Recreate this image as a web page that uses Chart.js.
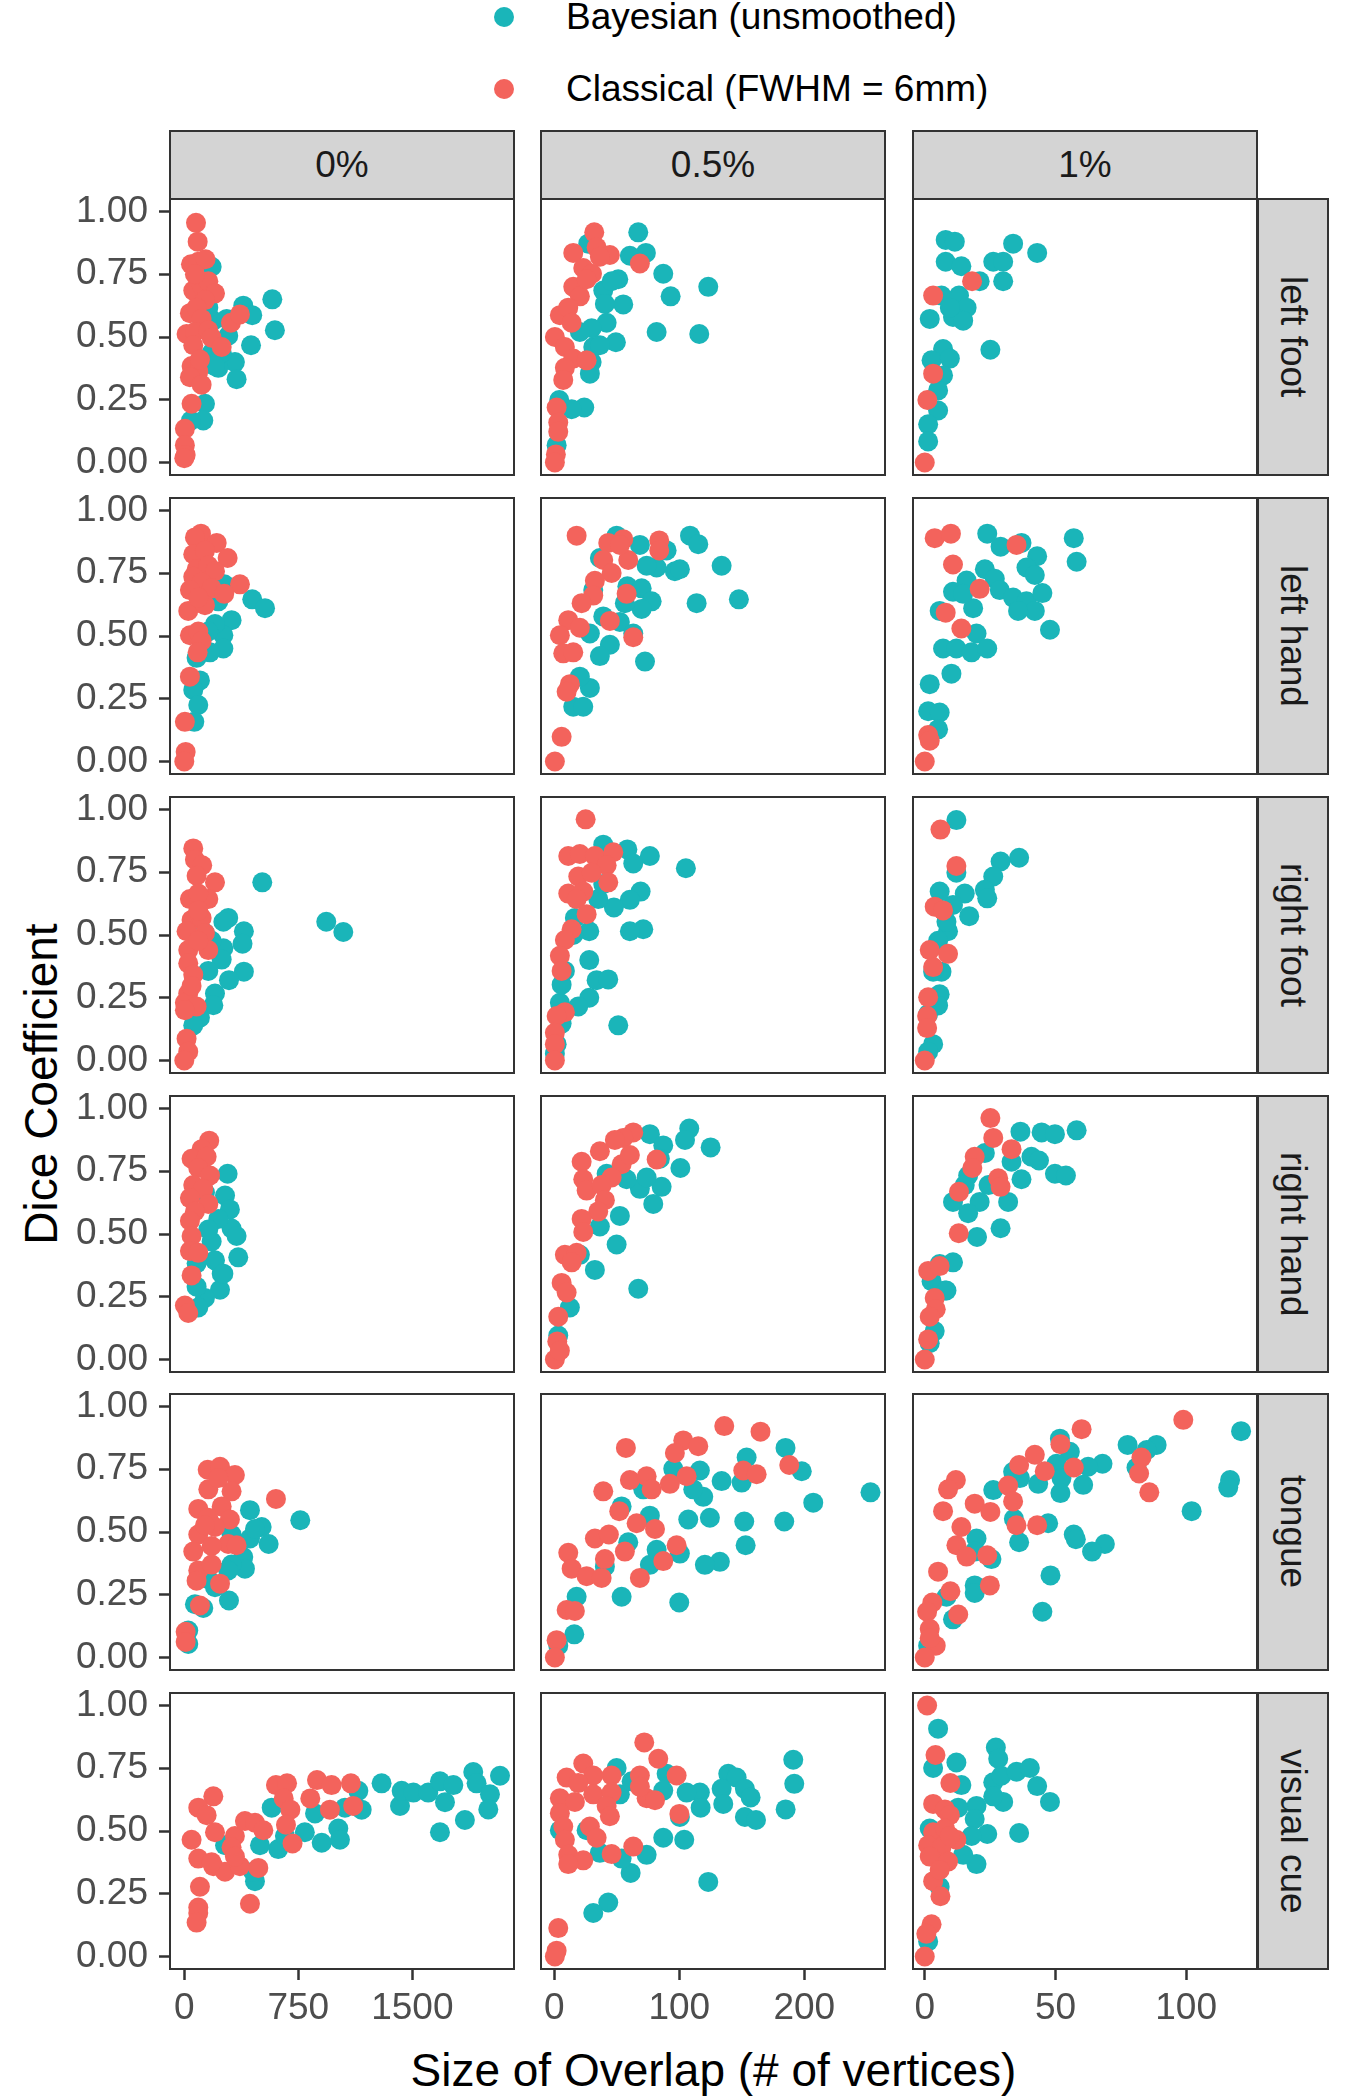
<!DOCTYPE html>
<html>
<head>
<meta charset="utf-8">
<title>Dice coefficient vs size of overlap</title>
<script src="https://cdn.jsdelivr.net/npm/chart.js"></script>
<style>
  body { margin: 0; background: #fff; font-family: 'Liberation Sans', Arial, sans-serif; }
  #page { position: relative; width: 1350px; height: 2100px; overflow: hidden; }
  .strip { position: absolute; box-sizing: border-box; background: #d4d4d4; border: 2px solid #333;
           display: flex; align-items: center; justify-content: center; font-size: 37px; color: #1a1a1a; }
  .strip.side { writing-mode: vertical-rl; }
  .legend-row { position: absolute; left: 494px; height: 40px; display: flex; align-items: center;
                font-size: 37px; color: #000; white-space: nowrap; }
  .legend-row .dot { width: 20px; height: 20px; border-radius: 50%; margin-right: 52px; }
  .title { position: absolute; color: #000; font-size: 46px; white-space: nowrap; }
  canvas { position: absolute; }
</style>
</head>
<body>
<div id="page">
  <div class="legend-row" style="top:-3px"><span class="dot" style="background:#1AB5B9"></span>Bayesian (unsmoothed)</div>
  <div class="legend-row" style="top:69px"><span class="dot" style="background:#F3635C"></span>Classical (FWHM = 6mm)</div>
  <div class="title" id="xTitle">Size of Overlap (# of vertices)</div>
  <div class="title" id="yTitle">Dice Coefficient</div>
</div>

<script>
// facet labels and axis ticks
const rowLabels = ['left foot', 'left hand', 'right foot', 'right hand', 'tongue', 'visual cue'];
const colLabels = ['0%', '0.5%', '1%'];
const xTicksByCol = [[0, 750, 1500], [0, 100, 200], [0, 50, 100]];
const xRangeByCol = [[-94, 2169], [-10.6, 264.6], [-4.5, 127.1]];
const yTickValues = [0, 0.25, 0.5, 0.75, 1];
const yRange = [-0.05, 1.05];

// ---- 0% ----
const claLeftFoot0 = [[77,0.955],[88,0.88],[44,0.79],[92,0.80],[140,0.81],[59,0.685],[114,0.707],[158,0.722],[202,0.674],[136,0.647],[37,0.595],[81,0.617],[114,0.572],[15,0.512],[70,0.52],[158,0.527],[180,0.497],[246,0.46],[59,0.467],[307,0.557],[366,0.59],[48,0.384],[92,0.362],[37,0.34],[114,0.31],[48,0.234],[4,0.134],[4,0.069],[9,0.03],[0,0.017],[70,0.75],[103,0.41]];
const bayLeftFoot0 = [[180,0.78],[388,0.625],[447,0.587],[579,0.65],[596,0.527],[439,0.467],[191,0.565],[279,0.572],[289,0.505],[180,0.437],[333,0.40],[344,0.332],[224,0.377],[136,0.234],[125,0.167],[44,0.167],[114,0.542],[246,0.437],[158,0.617],[202,0.384]];
const claLeftHand0 = [[110,0.908],[213,0.871],[285,0.811],[70,0.893],[59,0.826],[136,0.84],[81,0.766],[158,0.781],[202,0.758],[59,0.736],[366,0.706],[114,0.713],[37,0.683],[180,0.69],[263,0.668],[26,0.60],[136,0.623],[37,0.503],[92,0.518],[114,0.48],[88,0.435],[37,0.338],[4,0.158],[9,0.038],[0,0.0],[92,0.653]];
const bayLeftHand0 = [[263,0.706],[447,0.646],[531,0.611],[311,0.563],[257,0.503],[257,0.45],[169,0.435],[202,0.548],[81,0.413],[103,0.323],[59,0.285],[92,0.225],[66,0.158],[224,0.638],[158,0.518]];
const claRightFoot0 = [[59,0.845],[70,0.80],[118,0.778],[81,0.736],[202,0.71],[37,0.643],[158,0.643],[92,0.665],[48,0.56],[114,0.568],[15,0.515],[136,0.508],[26,0.44],[158,0.44],[26,0.387],[59,0.342],[26,0.267],[4,0.23],[81,0.215],[4,0.2],[15,0.087],[26,0.035],[0,0.0],[92,0.598],[92,0.477],[48,0.297]];
const bayRightFoot0 = [[513,0.71],[934,0.553],[1046,0.512],[289,0.568],[257,0.553],[392,0.515],[383,0.465],[257,0.447],[246,0.402],[392,0.354],[294,0.32],[202,0.267],[191,0.22],[103,0.17],[59,0.14],[180,0.477],[158,0.357],[136,0.508]];
const claRightHand0 = [[164,0.872],[114,0.838],[48,0.80],[147,0.808],[92,0.763],[169,0.733],[59,0.695],[125,0.68],[37,0.643],[158,0.62],[70,0.59],[37,0.553],[48,0.492],[37,0.432],[92,0.425],[48,0.335],[4,0.215],[26,0.185]];
const bayRightHand0 = [[285,0.74],[268,0.653],[300,0.598],[311,0.522],[344,0.492],[355,0.407],[246,0.342],[235,0.278],[136,0.245],[92,0.207],[81,0.29],[180,0.47],[202,0.395],[224,0.56],[158,0.518],[257,0.342],[81,0.383],[136,0.665]];
const claTongue0 = [[154,0.748],[235,0.76],[333,0.727],[158,0.67],[311,0.662],[603,0.632],[92,0.592],[246,0.602],[300,0.55],[158,0.557],[92,0.49],[202,0.52],[289,0.452],[344,0.447],[59,0.422],[180,0.444],[92,0.347],[180,0.37],[81,0.306],[235,0.294],[103,0.207],[9,0.102],[9,0.062],[224,0.715],[136,0.527]];
const bayTongue0 = [[763,0.547],[432,0.587],[509,0.52],[555,0.452],[432,0.474],[388,0.40],[399,0.354],[311,0.37],[289,0.347],[202,0.28],[294,0.227],[125,0.197],[70,0.212],[26,0.054],[26,0.107],[158,0.312],[465,0.512],[311,0.49]];
const claVisual0 = [[191,0.638],[92,0.593],[147,0.563],[48,0.465],[202,0.495],[92,0.39],[191,0.36],[268,0.338],[103,0.278],[92,0.195],[92,0.173],[81,0.135],[432,0.21],[487,0.353],[366,0.36],[333,0.48],[399,0.54],[465,0.533],[520,0.503],[603,0.683],[676,0.69],[654,0.63],[698,0.585],[669,0.525],[712,0.45],[829,0.63],[873,0.703],[969,0.683],[1096,0.69],[1111,0.60],[958,0.585],[311,0.435],[333,0.398],[180,0.375]];
const bayVisual0 = [[1298,0.69],[1419,0.60],[1430,0.66],[1507,0.653],[1605,0.653],[1682,0.698],[1770,0.683],[1715,0.615],[1682,0.495],[1846,0.544],[1901,0.735],[1923,0.69],[2077,0.72],[2011,0.646],[2000,0.586],[1145,0.66],[1167,0.585],[1013,0.51],[1024,0.465],[904,0.453],[860,0.57],[793,0.495],[618,0.428],[575,0.593],[498,0.443],[465,0.30],[454,0.338],[268,0.443],[662,0.48],[1057,0.593]];

// ---- 0.5% ----
const claLeftFoot05 = [[32,0.917],[15.2,0.835],[33.9,0.857],[44.5,0.827],[68.5,0.793],[23.2,0.775],[30.2,0.752],[15.2,0.70],[20.5,0.662],[4.5,0.587],[11.2,0.617],[13.9,0.557],[0.5,0.50],[8.5,0.46],[15.2,0.414],[25.9,0.407],[8.5,0.377],[7.2,0.329],[1.9,0.219],[3.2,0.159],[3.2,0.122],[1.3,0.032],[0.5,0.0],[36.5,0.82],[25.9,0.73]];
const bayLeftFoot05 = [[67.2,0.917],[27.2,0.872],[73.3,0.835],[60.5,0.824],[87.2,0.752],[51.2,0.73],[123.2,0.70],[93.1,0.662],[39.2,0.685],[55.2,0.63],[40.5,0.632],[41.9,0.557],[81.9,0.52],[116,0.512],[49.3,0.479],[29.9,0.535],[31.2,0.46],[29.9,0.40],[28.5,0.354],[24,0.219],[13.9,0.212],[4,0.249],[1.9,0.069],[20.5,0.52],[45.9,0.722],[36.5,0.467]];
const claLeftHand05 = [[17.9,0.90],[43.2,0.871],[55.2,0.886],[59.2,0.803],[84,0.881],[84,0.841],[39.2,0.803],[45.9,0.751],[32.5,0.72],[31.2,0.661],[21.9,0.631],[57.9,0.668],[44.5,0.56],[11.2,0.563],[4.5,0.503],[20.5,0.533],[7.2,0.431],[15.2,0.435],[63.2,0.495],[12.5,0.308],[9.9,0.278],[5.9,0.098],[0.5,0.0],[52.5,0.863]];
const bayLeftHand05 = [[49.9,0.90],[68.5,0.863],[89.9,0.841],[108.6,0.90],[115.2,0.866],[133.9,0.78],[147.7,0.646],[113.9,0.631],[96.5,0.758],[81.9,0.773],[73.9,0.78],[36.5,0.811],[31.2,0.683],[58.5,0.698],[69.9,0.69],[77.9,0.638],[69.9,0.608],[56.5,0.631],[39.2,0.578],[52.5,0.556],[28.5,0.51],[44.5,0.465],[36.5,0.42],[72.6,0.398],[28.5,0.293],[20.5,0.338],[15.2,0.218],[23.2,0.218],[100.5,0.766],[63.2,0.51]];
const claRightFoot05 = [[25.1,0.961],[11.2,0.815],[20.5,0.823],[32.5,0.815],[47.2,0.83],[41.9,0.778],[19.2,0.733],[43.2,0.71],[11.2,0.665],[23.2,0.673],[17.9,0.643],[25.9,0.583],[13.9,0.523],[8.5,0.48],[4.5,0.417],[5.9,0.357],[8.5,0.192],[1.9,0.177],[0.5,0.11],[0.5,0.065],[0.5,0.0],[29.9,0.748]];
const bayRightFoot05 = [[39.2,0.86],[58.5,0.841],[76.5,0.815],[63.2,0.785],[105.3,0.766],[69.1,0.673],[60.5,0.64],[47.7,0.61],[35.2,0.643],[71.2,0.523],[60.5,0.515],[28,0.515],[16.5,0.568],[28,0.40],[33.9,0.32],[43.2,0.323],[28,0.25],[19.2,0.215],[4.5,0.23],[5.9,0.302],[8.5,0.357],[51.2,0.14],[5.9,0.147],[1.9,0.065],[0.5,0.027],[15.2,0.50],[39.2,0.703]];
const claRightHand05 = [[63.2,0.905],[55.2,0.883],[48.5,0.875],[36.5,0.83],[21.9,0.788],[53.9,0.778],[81.9,0.797],[60.5,0.815],[23.2,0.718],[45.9,0.725],[25.9,0.673],[37.9,0.695],[40.5,0.635],[35.2,0.59],[21.9,0.56],[23.2,0.508],[8.5,0.417],[17.9,0.425],[13.9,0.387],[5.9,0.305],[9.9,0.267],[3.2,0.17],[2.4,0.072],[0.5,0.0],[4.5,0.035]];
const bayRightHand05 = [[108,0.92],[104.6,0.875],[125.1,0.845],[76.5,0.898],[87.2,0.853],[100.9,0.763],[85.9,0.688],[79.2,0.62],[68.5,0.68],[73.9,0.725],[57.9,0.718],[41.9,0.74],[52.5,0.572],[36.5,0.53],[49.9,0.458],[20.5,0.417],[32.5,0.357],[67.2,0.282],[12.5,0.207],[3.2,0.095],[84.5,0.80]];
const claTongue05 = [[136,0.922],[165,0.90],[57.3,0.835],[103.2,0.865],[115.2,0.842],[96.5,0.815],[188,0.767],[151.2,0.745],[161.9,0.73],[105.9,0.722],[60.5,0.707],[73.9,0.722],[77.9,0.67],[92.5,0.692],[39.2,0.662],[52,0.583],[65.9,0.535],[80.6,0.512],[32.5,0.474],[43.7,0.49],[11.2,0.417],[40.5,0.392],[56.5,0.422],[97.9,0.447],[87.2,0.384],[13.9,0.354],[25.9,0.324],[37.9,0.317],[68.5,0.317],[9.9,0.189],[16.5,0.185],[1.9,0.069],[0.5,0.0]];
const bayTongue05 = [[253,0.658],[185,0.835],[198,0.742],[207.2,0.617],[153.9,0.797],[149.9,0.697],[133.9,0.703],[119.2,0.64],[111.2,0.67],[116.5,0.745],[152,0.542],[184,0.542],[153.1,0.447],[124.5,0.557],[107.2,0.55],[132.5,0.381],[120.5,0.369],[100.5,0.414],[100,0.219],[53.9,0.242],[76.5,0.369],[81.9,0.429],[76.5,0.565],[59.2,0.459],[53.9,0.602],[40.5,0.362],[17.9,0.242],[16,0.092],[3.2,0.047],[71.2,0.67],[95.2,0.752]];
const claVisual05 = [[72,0.853],[23.2,0.769],[9.9,0.713],[83.2,0.788],[97.9,0.721],[68.5,0.721],[45.9,0.721],[31.2,0.721],[19.2,0.691],[4.5,0.631],[16.5,0.616],[31.2,0.646],[45.9,0.653],[73.9,0.631],[80.6,0.623],[4.5,0.571],[41.9,0.60],[100.1,0.568],[7.2,0.518],[44.5,0.559],[28.5,0.518],[8.5,0.465],[33.9,0.473],[63.2,0.438],[45.9,0.408],[11.2,0.405],[23.2,0.383],[11.2,0.368],[3.2,0.113],[1.9,0.023],[0.5,0.0],[68.5,0.676]];
const bayVisual05 = [[191.2,0.784],[192,0.688],[185.1,0.586],[139.2,0.728],[145.9,0.713],[152.5,0.668],[157.1,0.634],[133.9,0.668],[135.2,0.608],[152.5,0.556],[161.4,0.544],[116.5,0.653],[117.1,0.593],[105.9,0.653],[100.5,0.556],[104,0.465],[87.2,0.473],[123.2,0.297],[73.9,0.405],[61.1,0.333],[53.9,0.39],[36.5,0.413],[43.2,0.215],[31.2,0.173],[89.9,0.728],[49.9,0.751],[52.5,0.646],[87.2,0.661],[4.5,0.503],[25.9,0.503],[61.9,0.698]];

// ---- 1% ----
const claLeftFoot1 = [[18.1,0.722],[3.2,0.665],[3.2,0.354],[1,0.249],[0,0.0]];
const bayLeftFoot1 = [[8,0.887],[11.5,0.88],[33.8,0.872],[43,0.835],[8,0.80],[14,0.782],[26.2,0.80],[30,0.80],[30,0.722],[21,0.722],[6.4,0.665],[13.1,0.665],[16,0.617],[10.8,0.58],[14.7,0.565],[1.9,0.572],[25.1,0.449],[7,0.452],[2.6,0.407],[9.6,0.414],[7,0.347],[5.1,0.287],[5.1,0.207],[1.3,0.152],[1.3,0.084],[9.6,0.617]];
const claLeftHand1 = [[3.8,0.89],[10,0.908],[35.1,0.863],[10.8,0.785],[21,0.688],[8,0.593],[14,0.53],[1.3,0.105],[1.9,0.083],[0,0.0]];
const bayLeftHand1 = [[23.9,0.908],[29,0.856],[37,0.871],[43,0.818],[57,0.89],[58.1,0.796],[38.9,0.773],[42.1,0.743],[23,0.766],[26.8,0.728],[16,0.721],[28.7,0.683],[33.8,0.653],[38.9,0.638],[42.1,0.60],[35.7,0.60],[45,0.671],[47.9,0.525],[10.8,0.676],[5.7,0.60],[18.5,0.611],[19.8,0.51],[7,0.45],[12.1,0.45],[17.9,0.435],[23.9,0.45],[10.2,0.35],[1.9,0.308],[1.3,0.20],[5.7,0.195],[5.1,0.128],[14.7,0.668]];
const claRightFoot1 = [[6,0.92],[12.1,0.775],[3.8,0.613],[7,0.598],[1.9,0.44],[8.9,0.425],[3.2,0.372],[1.3,0.252],[0.9,0.177],[0.9,0.129],[0,0.0]];
const bayRightFoot1 = [[12.1,0.958],[36.1,0.808],[29,0.793],[26.2,0.733],[23,0.68],[23.9,0.646],[15.3,0.665],[17,0.575],[12.1,0.748],[5.7,0.673],[10.8,0.62],[8.9,0.515],[5.1,0.477],[6.4,0.354],[3.2,0.354],[5.7,0.264],[5.1,0.219],[1.3,0.185],[3.2,0.065],[1.3,0.035],[8.3,0.553]];
const claRightHand1 = [[25.1,0.962],[26.2,0.883],[33.2,0.838],[19.1,0.808],[18.2,0.763],[28.1,0.722],[29,0.688],[13.1,0.668],[13,0.503],[1.3,0.353],[5.7,0.372],[3.8,0.245],[4.2,0.20],[1.9,0.17],[1.3,0.08],[0,0.0]];
const bayRightHand1 = [[36.6,0.908],[44.7,0.905],[49.8,0.898],[58.1,0.913],[40.8,0.808],[43.7,0.793],[49.8,0.74],[54,0.733],[37,0.718],[33.2,0.788],[23,0.823],[31.9,0.628],[24.4,0.695],[21,0.628],[16.6,0.733],[15.3,0.695],[10.8,0.628],[16.6,0.583],[20,0.488],[29,0.523],[10.8,0.387],[5.7,0.38],[7.7,0.275],[3.8,0.113],[1.9,0.065],[2.6,0.312],[8.3,0.275]];
const claTongue1 = [[98.9,0.947],[60,0.91],[51.9,0.85],[42.1,0.808],[36.1,0.767],[45.9,0.742],[57,0.757],[82.9,0.797],[82,0.733],[85.9,0.658],[11.9,0.707],[8.9,0.67],[7,0.583],[19.1,0.613],[25.1,0.58],[31.9,0.685],[33.8,0.622],[35.1,0.527],[43,0.527],[14,0.52],[12.1,0.447],[16,0.402],[23.9,0.407],[5.1,0.342],[24.9,0.287],[9.8,0.264],[12.8,0.171],[2.9,0.219],[0.9,0.182],[1.9,0.114],[4.2,0.047],[0,0.0],[1.9,0.077]];
const bayTongue1 = [[121,0.902],[116.8,0.707],[116.1,0.677],[102.1,0.583],[88.7,0.847],[84.9,0.827],[77.6,0.847],[81,0.757],[68,0.772],[62.5,0.76],[51.7,0.872],[55.5,0.82],[50.4,0.772],[52.3,0.715],[51.9,0.655],[60.6,0.688],[43.4,0.692],[36.4,0.715],[33.8,0.74],[26.2,0.667],[34.1,0.553],[47.2,0.535],[57,0.49],[57.8,0.471],[68.9,0.452],[64,0.422],[36.1,0.459],[48.1,0.327],[45,0.182],[19.8,0.474],[19.1,0.422],[25.5,0.392],[19.1,0.287],[19.1,0.257],[8.3,0.242],[10.8,0.152],[1.3,0.047]];
const claVisual1 = [[0.9,1.0],[4.1,0.803],[9.8,0.691],[3.2,0.608],[7.7,0.586],[9.6,0.563],[3.2,0.495],[7.7,0.51],[12.1,0.465],[1.3,0.443],[6.4,0.435],[1.9,0.398],[8.9,0.378],[3.2,0.30],[6,0.24],[2.6,0.128],[0.6,0.09],[0,0.0],[5.7,0.345],[9.6,0.48]];
const bayVisual1 = [[5.1,0.908],[27.2,0.833],[28.1,0.788],[12.1,0.773],[3.2,0.751],[14,0.683],[26.2,0.694],[29.3,0.72],[35.1,0.736],[40.2,0.751],[43,0.679],[47.9,0.616],[30,0.616],[26.2,0.638],[19.8,0.60],[19.1,0.548],[23.9,0.488],[36.1,0.492],[17.9,0.48],[19.8,0.368],[14.7,0.405],[12.8,0.593],[1.9,0.51],[5.7,0.278],[1.3,0.06],[7,0.39]];

// rows x cols lookup
const bayesian = [
  [bayLeftFoot0, bayLeftFoot05, bayLeftFoot1],
  [bayLeftHand0, bayLeftHand05, bayLeftHand1],
  [bayRightFoot0, bayRightFoot05, bayRightFoot1],
  [bayRightHand0, bayRightHand05, bayRightHand1],
  [bayTongue0, bayTongue05, bayTongue1],
  [bayVisual0, bayVisual05, bayVisual1]
];
const classical = [
  [claLeftFoot0, claLeftFoot05, claLeftFoot1],
  [claLeftHand0, claLeftHand05, claLeftHand1],
  [claRightFoot0, claRightFoot05, claRightFoot1],
  [claRightHand0, claRightHand05, claRightHand1],
  [claTongue0, claTongue05, claTongue1],
  [claVisual0, claVisual05, claVisual1]
];

// layout
const TEAL = '#1AB5B9', RED = '#F3635C', INK = '#333333';
const panelLeft = [170, 541, 913], panelW = 344, panelH = 276;
const top0 = 199.4, rowStep = 298.7;
const yAxisW = 110, xAxisH = 70;
const stripH = 69, sideW = 72;
const PAD = 25;   // spare canvas room so border and edge tick labels are not clipped

Chart.defaults.font.family = "'Liberation Sans', Arial, sans-serif";
Chart.defaults.font.size = 37;
Chart.defaults.color = '#4d4d4d';

const page = document.getElementById('page');

// panel border drawn over the points, like ggplot's panel.border
const panelBorder = {
  id: 'panelBorder',
  afterDatasetsDraw(chart) {
    const a = chart.chartArea, ctx = chart.ctx;
    ctx.save();
    ctx.strokeStyle = INK;
    ctx.lineWidth = 2;
    ctx.strokeRect(a.left, a.top, a.right - a.left, a.bottom - a.top);
    ctx.restore();
  }
};

const tickGrid = { display: true, drawOnChartArea: false, drawTicks: true, tickLength: 11, tickWidth: 2.5, tickColor: INK };

function rowTop(r) { return Math.round(top0 + r * rowStep); }

function toPoints(arr) { return arr.map(p => ({ x: p[0], y: p[1] })); }

// strips
colLabels.forEach((lab, c) => {
  const d = document.createElement('div');
  d.className = 'strip';
  d.textContent = lab;
  d.style.cssText = `left:${panelLeft[c] - 1}px;top:${rowTop(0) - stripH}px;width:${panelW + 2}px;height:${stripH + 1}px`;
  page.appendChild(d);
});
rowLabels.forEach((lab, r) => {
  const d = document.createElement('div');
  d.className = 'strip side';
  d.textContent = lab;
  d.style.cssText = `left:${panelLeft[2] + panelW}px;top:${rowTop(r) - 1}px;width:${sideW}px;height:${panelH + 2}px`;
  page.appendChild(d);
});

// panels
rowLabels.forEach((rl, r) => {
  colLabels.forEach((cl, c) => {
    const showY = c === 0;
    const showX = r === rowLabels.length - 1;
    const left = panelLeft[c] - PAD - (showY ? yAxisW : 0);
    const top = rowTop(r) - PAD;
    const w = panelW + 2 * PAD + (showY ? yAxisW : 0);
    const h = panelH + 2 * PAD + (showX ? xAxisH : 0);

    const cv = document.createElement('canvas');
    cv.width = w; cv.height = h;
    cv.style.cssText = `left:${left}px;top:${top}px;width:${w}px;height:${h}px`;
    page.appendChild(cv);

    new Chart(cv, {
      type: 'scatter',
      data: {
        datasets: [
          // first dataset is painted last, so the classical points sit on top
          { label: 'Classical (FWHM = 6mm)', data: toPoints(classical[r][c]), backgroundColor: RED },
          { label: 'Bayesian (unsmoothed)', data: toPoints(bayesian[r][c]), backgroundColor: TEAL }
        ]
      },
      options: {
        responsive: false,
        animation: false,
        devicePixelRatio: 1,
        layout: { padding: PAD, autoPadding: false },
        elements: { point: { radius: 10, hoverRadius: 10, borderWidth: 0 } },
        plugins: { legend: { display: false }, tooltip: { enabled: false } },
        events: [],
        scales: {
          x: {
            type: 'linear',
            display: showX,
            min: xRangeByCol[c][0],
            max: xRangeByCol[c][1],
            afterBuildTicks: s => { s.ticks = xTicksByCol[c].map(v => ({ value: v })); },
            afterFit: s => { if (showX) { s.height = xAxisH; s.paddingLeft = 0; s.paddingRight = 0; } },
            grid: tickGrid,
            border: { display: false },
            ticks: { padding: 7, maxRotation: 0, autoSkip: false, callback: v => String(v) }
          },
          y: {
            type: 'linear',
            display: showY,
            min: yRange[0],
            max: yRange[1],
            afterBuildTicks: s => { s.ticks = yTickValues.map(v => ({ value: v })); },
            afterFit: s => { if (showY) { s.width = yAxisW; s.paddingTop = 0; s.paddingBottom = 0; } },
            grid: tickGrid,
            border: { display: false },
            ticks: { padding: 11, autoSkip: false, callback: v => v.toFixed(2) }
          }
        }
      },
      plugins: [panelBorder]
    });
  });
});

// axis titles, centred on the panel block
const gridLeft = panelLeft[0], gridRight = panelLeft[2] + panelW;
const gridTop = rowTop(0), gridBottom = rowTop(rowLabels.length - 1) + panelH;
const xt = document.getElementById('xTitle');
xt.style.left = ((gridLeft + gridRight) / 2 - xt.offsetWidth / 2) + 'px';
xt.style.top = (2070 - xt.offsetHeight / 2) + 'px';
const yt = document.getElementById('yTitle');
yt.style.left = (40 - yt.offsetWidth / 2) + 'px';
yt.style.top = ((gridTop + gridBottom) / 2 - yt.offsetHeight / 2) + 'px';
yt.style.transform = 'rotate(-90deg)';
</script>
</body>
</html>
